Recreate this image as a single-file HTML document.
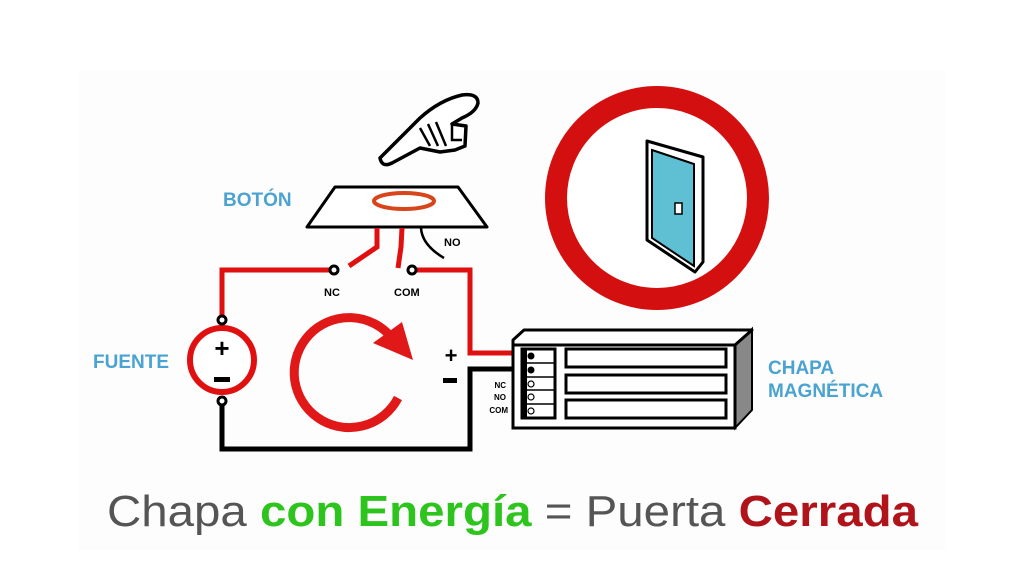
<!DOCTYPE html>
<html><head><meta charset="utf-8"><style>html,body{margin:0;padding:0;background:#fff}svg{display:block}</style></head>
<body>
<svg width="1024" height="567" viewBox="0 0 1024 567" xmlns="http://www.w3.org/2000/svg" font-family="Liberation Sans, sans-serif">
<rect width="1024" height="567" fill="#fff"/>
<rect x="78" y="70" width="867" height="480" fill="#fdfdfe"/>
<!-- circle & door -->
<circle cx="657" cy="198" r="101" fill="#fff" stroke="#d40f0f" stroke-width="22"/>
<polygon points="647,141 703,157 703,262 695,272 647,240" fill="#fff" stroke="#000" stroke-width="3" stroke-linejoin="round"/>
<polygon points="652,150 694,164 694,266 652,238" fill="#5fc0d3" stroke="#000" stroke-width="2"/>
<rect x="675" y="203" width="7" height="11" fill="#fff" stroke="#000" stroke-width="1.5"/>
<!-- hand -->
<path d="M380,158 L420,118 Q440,100 462,95 Q478,93 478,103 Q476,112 462,118 L452,124 L466,126 L465,146 L455,150 L440,152 L420,148 L392,163 Q382,168 380,158 Z" fill="#fff" stroke="#000" stroke-width="3.5" stroke-linejoin="round"/>
<path d="M420,128 L430,146 M428,124 L438,146 M436,122 L446,146 M452,124 L452,140 L462,140" fill="none" stroke="#000" stroke-width="2.5"/>
<!-- button -->
<polygon points="335,187 458,187 487,227 307,227" fill="#fff" stroke="#000" stroke-width="3" stroke-linejoin="round"/>
<ellipse cx="404" cy="201" rx="30" ry="8" fill="#fff" stroke="#d9451b" stroke-width="4"/>
<text x="223" y="206" font-size="19" font-weight="bold" fill="#4aa3d0">BOTÓN</text>
<!-- button wires -->
<path d="M377,228 L377,247 L349,266" fill="none" stroke="#e01010" stroke-width="5"/>
<path d="M402,228 L401,247 L398,268" fill="none" stroke="#e01010" stroke-width="5"/>
<path d="M421,228 Q422,245 444,258" fill="none" stroke="#000" stroke-width="2.5"/>
<text x="444" y="246" font-size="11" font-weight="bold">NO</text>
<!-- main wires -->
<path d="M333,270 L222,270 L222,318" fill="none" stroke="#e01010" stroke-width="5"/>
<path d="M415,270 L470,270 L470,353 L527,353" fill="none" stroke="#e01010" stroke-width="5"/>
<path d="M222,403 L222,449 L470,449 L470,369 L527,369" fill="none" stroke="#000" stroke-width="5"/>
<circle cx="334" cy="270" r="4" fill="#fff" stroke="#000" stroke-width="3"/>
<circle cx="412" cy="270" r="4" fill="#fff" stroke="#000" stroke-width="3"/>
<text x="324" y="296" font-size="11" font-weight="bold">NC</text>
<text x="394" y="296" font-size="11" font-weight="bold">COM</text>
<!-- fuente -->
<circle cx="222" cy="360" r="32" fill="#fff" stroke="#e01010" stroke-width="6"/>
<circle cx="222" cy="320" r="4" fill="#fff" stroke="#000" stroke-width="3"/>
<circle cx="222" cy="401" r="4" fill="#fff" stroke="#000" stroke-width="3"/>
<text x="222" y="357" font-size="26" font-weight="bold" text-anchor="middle">+</text>
<rect x="214" y="377" width="16" height="5" fill="#000"/>
<text x="93" y="368" font-size="19" font-weight="bold" fill="#4aa3d0">FUENTE</text>
<!-- circular arrow -->
<path d="M398,398 A55,55 0 1 1 392,338" fill="none" stroke="#e01818" stroke-width="9"/>
<polygon points="373,343 402,322 413,360" fill="#e01818"/>
<text x="451" y="363" font-size="22" font-weight="bold" text-anchor="middle">+</text>
<rect x="443" y="378" width="14" height="5" fill="#000"/>
<!-- magnet -->
<polygon points="735,345 752,329 752,410 735,428" fill="#888" stroke="#000" stroke-width="2"/>
<polygon points="513,340 524,330 752,330 735,345 513,345" fill="#fff" stroke="#000" stroke-width="3" stroke-linejoin="round"/>
<rect x="513" y="345" width="222" height="83" fill="#fff" stroke="#000" stroke-width="3"/>
<rect x="522" y="349" width="33" height="69" fill="#fff" stroke="#000" stroke-width="3"/>
<rect x="522" y="349" width="5" height="69" fill="#000"/>
<g stroke="#000" stroke-width="1.5"><line x1="527" y1="363" x2="555" y2="363"/><line x1="527" y1="377" x2="555" y2="377"/><line x1="527" y1="390" x2="555" y2="390"/><line x1="527" y1="404" x2="555" y2="404"/></g>
<circle cx="531" cy="356" r="3.5" fill="#000"/><circle cx="531" cy="370" r="3.5" fill="#000"/>
<g fill="#fff" stroke="#000" stroke-width="1.2"><circle cx="531" cy="384" r="3"/><circle cx="531" cy="397" r="3"/><circle cx="531" cy="411" r="3"/></g>
<text x="506" y="388" font-size="8" font-weight="bold" text-anchor="end">NC</text>
<text x="506" y="400" font-size="8" font-weight="bold" text-anchor="end">NO</text>
<text x="508" y="413" font-size="8" font-weight="bold" text-anchor="end">COM</text>
<g fill="#fff" stroke="#000" stroke-width="3"><rect x="566" y="349" width="160" height="18"/><rect x="566" y="375" width="160" height="18"/><rect x="566" y="400" width="160" height="18"/></g>
<text x="768" y="374" font-size="19" font-weight="bold" fill="#4aa3d0">CHAPA</text>
<text x="768" y="397" font-size="19" font-weight="bold" fill="#4aa3d0">MAGNÉTICA</text>
<!-- caption -->
<text x="107" y="526" font-size="44" textLength="811" lengthAdjust="spacingAndGlyphs"><tspan fill="#555">Chapa </tspan><tspan fill="#2ec41e" font-weight="bold">con Energía</tspan><tspan fill="#555"> = Puerta </tspan><tspan fill="#b0141a" font-weight="bold">Cerrada</tspan></text>
</svg>
</body></html>
